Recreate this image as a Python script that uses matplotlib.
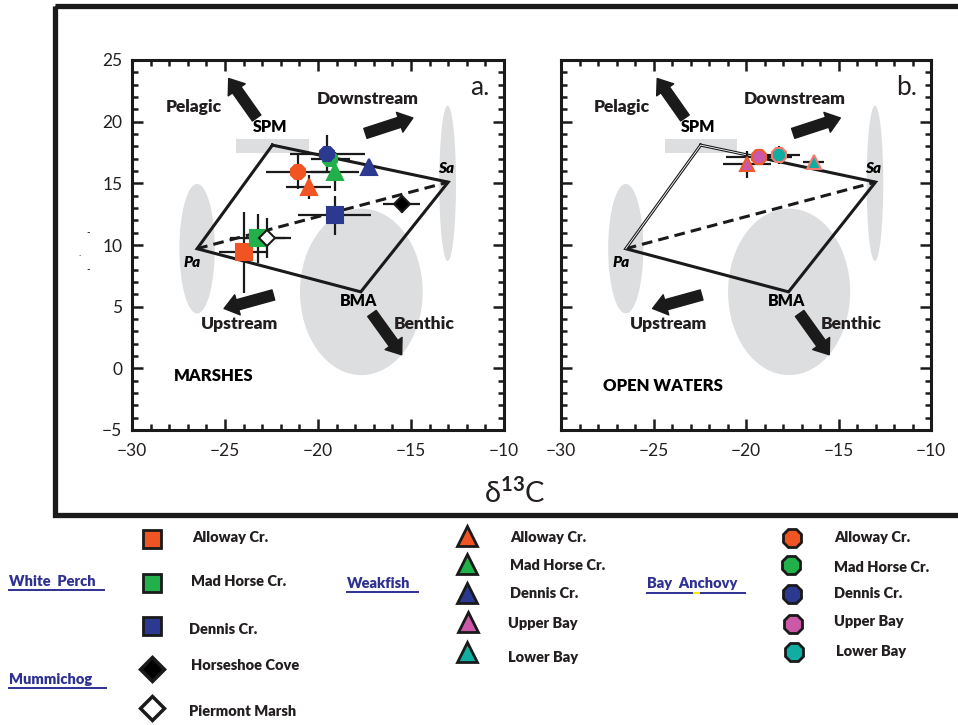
import numpy as np
import matplotlib.pyplot as plt
from matplotlib.patches import Ellipse, Rectangle
from matplotlib.ticker import MultipleLocator

plt.rcParams['font.family'] = ['Lato', 'DejaVu Sans']
plt.rcParams['mathtext.fontset'] = 'custom'
plt.rcParams['mathtext.rm'] = 'Lato'
plt.rcParams['mathtext.bf'] = 'Lato:bold'

# end members (d13C, d15N): SPM, Sa, BMA, Pa
em_names = ['SPM', 'Sa', 'BMA', 'Pa']
em_x = [-22.45, -13.0, -17.7, -26.5]
em_y = [18.1, 15.1, 6.2, 9.7]

# grey source ranges
spm_box = [-24.4, -20.5, 17.5, 18.6]
ell_cx = [-26.5, -13.03, -17.67]
ell_cy = [9.7, 15.0, 6.2]
ell_w = [1.9, 0.9, 6.6]
ell_h = [10.5, 12.6, 13.5]

# colours per site
orange = '#F05423'
green = '#22B04B'
blue = '#2B3990'
pink = '#CB59A7'
teal = '#10ADA2'
grey = '#DDDEDF'
linkblue = '#2E3192'

# ---- a. marshes ----
wp_col = [orange, green, blue]          # white perch: Alloway, Mad Horse, Dennis
wp_x = [-24.0, -23.25, -19.1]
wp_y = [9.4, 10.55, 12.4]
wp_xerr = [1.3, 1.5, 1.95]
wp_yerr = [3.3, 2.0, 1.6]

mm_fc = ['black', 'white']              # mummichog: Horseshoe Cove, Piermont Marsh
mm_x = [-15.5, -22.75]
mm_y = [13.3, 10.55]
mm_xerr = [1.0, 1.3]
mm_yerr = [0.7, 1.6]

wf_col = [orange, green, blue]          # weakfish
wf_x = [-20.5, -19.1, -17.25]
wf_y = [14.7, 15.95, 16.3]
wf_xerr = [1.2, 1.3, 0]
wf_yerr = [0.95, 1.6, 0]

ba_col = [orange, green, blue]          # bay anchovy
ba_x = [-21.1, -19.35, -19.5]
ba_y = [15.95, 17.0, 17.4]
ba_xerr = [1.7, 1.05, 2.0]
ba_yerr = [1.4, 0.5, 1.5]

# ---- b. open waters (Upper Bay, Lower Bay) ----
owf_col = [pink, teal]
owf_edge = ['#F05A28', '#F37B70']
owf_x = [-19.95, -16.35]
owf_y = [16.55, 16.7]
owf_xerr = [1.3, 0.55]
owf_yerr = [1.1, 0]

oba_col = [pink, teal]
oba_edge = ['#F05A28', '#F37B70']
oba_x = [-19.3, -18.2]
oba_y = [17.1, 17.3]
oba_xerr = [1.8, 1.1]
oba_yerr = [0.5, 0.75]

# arrows (tail -> head)
arr_tail = [(-23.3, 20.3), (-17.45, 19.05), (-22.4, 5.95), (-17.1, 4.45)]
arr_head = [(-24.8, 23.5), (-14.9, 20.3), (-25.05, 4.85), (-15.5, 1.1)]

fig = plt.figure(figsize=(9.58, 7.25), dpi=100)

# overlay in pixel coords for frame + legend
ov = fig.add_axes([0, 0, 1, 1])
ov.set_xlim(0, 958)
ov.set_ylim(725, 0)
ov.axis('off')
ov.add_patch(Rectangle((55, 6), 930, 509, fill=False, ec='#1a1a1a', lw=3.8, clip_on=False))

W, H = 958, 725
axa = fig.add_axes([132 / W, (725 - 430) / H, 372 / W, 370 / H])
axb = fig.add_axes([561 / W, (725 - 430) / H, 370 / W, 370 / H])

BW = 'heavy'


def base(ax, tag, region, labels=True):
    ax.set_xlim(-30, -10)
    ax.set_ylim(-5, 25)
    ax.add_patch(Rectangle((spm_box[0], spm_box[2]), spm_box[1] - spm_box[0],
                           spm_box[3] - spm_box[2], color=grey, lw=0, zorder=0))
    for cx, cy, w, h in zip(ell_cx, ell_cy, ell_w, ell_h):
        ax.add_patch(Ellipse((cx, cy), w, h, color=grey, lw=0, zorder=0))
    px = em_x + [em_x[0]]
    py = em_y + [em_y[0]]
    ax.plot(px, py, color='#1a1a1a', lw=2.2, zorder=1, solid_joinstyle='miter')
    ax.plot([em_x[3], em_x[1]], [em_y[3], em_y[1]], color='#1a1a1a', lw=2.2,
            ls=(0, (3.5, 2)), zorder=1)
    for t, h in zip(arr_tail, arr_head):
        ax.annotate('', xy=h, xytext=t,
                    arrowprops=dict(arrowstyle='simple,head_length=1.0,head_width=1.5,tail_width=0.75',
                                    mutation_scale=10, fc='#1a1a1a', ec='#1a1a1a',
                                    shrinkA=0, shrinkB=0))
    kw = dict(fontsize=12.5, fontweight=BW, ha='center', va='center', color='#231f20')
    ax.text(-26.7, 21.2, 'Pelagic', **kw)
    ax.text(-17.35, 21.8, 'Downstream', **kw)
    ax.text(-24.2, 3.6, 'Upstream', **kw)
    ax.text(-14.3, 3.6, 'Benthic', **kw)
    ax.text(-22.6, 19.6, 'SPM', fontsize=11.5, fontweight=BW, ha='center', va='center')
    ax.text(-17.8, 5.5, 'BMA', fontsize=11.5, fontweight=BW, ha='center', va='center')
    ax.text(-13.1, 16.2, 'Sa', fontsize=11, fontweight=BW, style='italic', ha='center', va='center')
    ax.text(-26.75, 8.6, 'Pa', fontsize=11, fontweight=BW, style='italic', ha='center', va='center')
    ax.text(-27.75, region[1], region[0], fontsize=12, fontweight=BW, ha='left', va='center')
    ax.text(-11.3, 22.8, tag, fontsize=19, ha='center', va='center', color='#231f20')
    ax.xaxis.set_major_locator(MultipleLocator(5))
    ax.xaxis.set_minor_locator(MultipleLocator(1))
    ax.yaxis.set_major_locator(MultipleLocator(5))
    ax.yaxis.set_minor_locator(MultipleLocator(1))
    ax.tick_params(which='both', direction='in', top=True, right=True, width=1.8,
                   labelsize=12.5, color='#1a1a1a', labelcolor='#231f20')
    ax.tick_params(which='major', length=8)
    ax.tick_params(which='minor', length=4.5)
    ax.tick_params(axis='x', pad=9)
    ax.tick_params(axis='y', pad=7, labelleft=labels)
    for s in ax.spines.values():
        s.set_linewidth(2.2)
        s.set_color('#1a1a1a')


base(axa, 'a.', ('MARSHES', -0.6))
base(axb, 'b.', ('OPEN WATERS', -1.4), labels=False)

# double-line look on panel b edge Pa -> SPM -> part of SPM-Sa
fx = em_x[0] + 0.3 * (em_x[1] - em_x[0])
fy = em_y[0] + 0.3 * (em_y[1] - em_y[0])
axb.plot([em_x[3], em_x[0], fx], [em_y[3], em_y[0], fy], color='white', lw=0.6, zorder=1.5)

eb = dict(fmt='none', ecolor='#1a1a1a', elinewidth=1.6, capsize=0, zorder=3)


def pts(ax, x, y, xe, ye, marker, fcs, ecs, ms):
    ax.errorbar(x, y, xerr=xe, yerr=ye, **eb)
    for xi, yi, fc, ec in zip(x, y, fcs, ecs):
        ax.plot(xi, yi, marker, ms=ms, mfc=fc, mec=ec, mew=1.5, zorder=4)


pts(axa, wp_x, wp_y, wp_xerr, wp_yerr, 's', wp_col, wp_col, 11)
pts(axa, mm_x, mm_y, mm_xerr, mm_yerr, 'D', mm_fc, ['#1a1a1a', '#1a1a1a'], 8.5)
pts(axa, wf_x, wf_y, wf_xerr, wf_yerr, '^', wf_col, wf_col, 11)
pts(axa, ba_x, ba_y, ba_xerr, ba_yerr, '8', ba_col, ba_col, 11)

pts(axb, owf_x, owf_y, owf_xerr, owf_yerr, '^', owf_col, owf_edge, 10.5)
pts(axb, oba_x, oba_y, oba_xerr, oba_yerr, '8', oba_col, oba_edge, 10.5)

# axis labels
ov.text(515, 492, r'δ$^{\mathbf{13}}$C', fontsize=21, ha='center', va='center', color='#231f20')
for xx, yy, ch in [(88, 233, '-'), (80, 253, '.'), (88, 270, '-')]:
    ov.text(xx, yy, ch, fontsize=7, ha='center', va='center')

# legend
lk = dict(fontsize=10.5, fontweight=BW, ha='left', va='center', color='#231f20')
gk = dict(fontsize=10.5, fontweight=BW, ha='left', va='center', color=linkblue)

groups = [('White  Perch', 9, 581, 104, 590),
          ('Mummichog', 9, 679, 106, 688),
          ('Weakfish', 347, 583, 418, 592),
          ('Bay  Anchovy', 647, 584, 745, 592.5)]
for name, gx, gy, ux, uy in groups:
    ov.text(gx, gy, name, **gk)
    ov.plot([gx, ux], [uy, uy], color=linkblue, lw=1.4)
ov.plot([694, 699], [592.5, 592.5], color='#FFF200', lw=1.4)

sq_names = ['Alloway Cr.', 'Mad Horse Cr.', 'Dennis Cr.']
sq_pos = [(152, 539, 192, 537), (152, 583, 191, 582), (152, 626, 189, 629)]
for n, c, (mx, my, tx, ty) in zip(sq_names, wp_col, sq_pos):
    ov.plot(mx, my, 's', ms=13, mfc=c, mec='#1a1a1a', mew=2)
    ov.text(tx, ty, n, **lk)

dm_names = ['Horseshoe Cove', 'Piermont Marsh']
dm_pos = [(152, 669, 191, 665), (152, 708, 189, 712)]
for n, c, (mx, my, tx, ty) in zip(dm_names, mm_fc, dm_pos):
    ov.plot(mx, my, 'D', ms=12.5, mfc=c, mec='#1a1a1a', mew=2.5)
    ov.text(tx, ty, n, **lk)

tri_names = ['Alloway Cr.', 'Mad Horse Cr.', 'Dennis Cr.', 'Upper Bay', 'Lower Bay']
tri_col = [orange, green, blue, pink, teal]
tri_pos = [(467, 536, 510, 538), (467, 564, 510, 566), (467, 593, 510, 593),
           (468, 622, 508, 623), (467, 652, 508, 657)]
for n, c, (mx, my, tx, ty) in zip(tri_names, tri_col, tri_pos):
    ov.plot(mx, my, '^', ms=15, mfc=c, mec='#1a1a1a', mew=2)
    ov.text(tx, ty, n, **lk)

ci_pos = [(792, 538, 834, 537), (791, 565, 834, 567), (792, 594, 834, 593),
          (793, 624, 834, 622), (794, 652, 836, 652)]
for n, c, (mx, my, tx, ty) in zip(tri_names, tri_col, ci_pos):
    ov.plot(mx, my, '8', ms=14, mfc=c, mec='#1a1a1a', mew=2)
    ov.text(tx, ty, n, **lk)

fig.savefig('out.png', dpi=100)
